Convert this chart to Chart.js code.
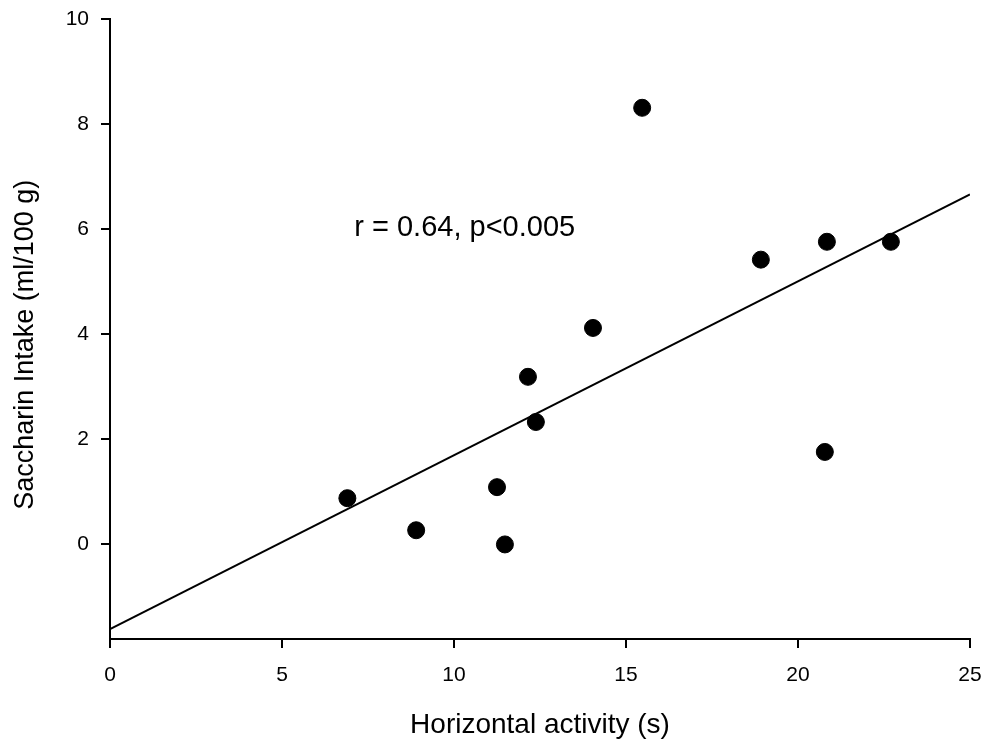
<!DOCTYPE html>
<html>
<head>
<meta charset="utf-8">
<script src="https://cdn.jsdelivr.net/npm/chart.js@4.4.0/dist/chart.umd.min.js"></script>
<style>
  html, body { margin: 0; padding: 0; background: #fff; }
  #wrap { width: 990px; height: 743px; }
</style>
</head>
<body>
<div id="wrap"><canvas id="scatterChart"></canvas></div>
<script>
// measured points (horizontal activity in s, saccharin intake in ml/100 g)
const activity = [6.9, 8.9, 11.25, 11.48, 12.15, 12.38, 14.04, 15.47, 18.92, 20.84, 20.78, 22.7];
const intake   = [0.88, 0.27, 1.09, 0.0, 3.19, 2.33, 4.12, 8.31, 5.42, 5.76, 1.76, 5.76];

// regression line end points
const fitX = [0, 25];
const fitY = [-1.61, 6.66];

const xTicks = [0, 5, 10, 15, 20, 25];
const yTicks = [0, 2, 4, 6, 8, 10];

const xTitle = "Horizontal activity (s)";
const yTitle = "Saccharin Intake (ml/100 g)";
const statsLabel = "r = 0.64, p<0.005";
const statsPos = [7.1, 6.03];

const FONT = "'Liberation Sans', Arial, sans-serif";

// r / p text inside the plot, and the y title (sits a bit below the axis centre in the original)
const extraText = {
  id: "extraText",
  afterDatasetsDraw(chart) {
    const { ctx, scales } = chart;
    ctx.save();
    ctx.fillStyle = "#000";
    ctx.font = "29px " + FONT;
    ctx.textAlign = "left";
    ctx.textBaseline = "middle";
    ctx.fillText(statsLabel, scales.x.getPixelForValue(statsPos[0]), scales.y.getPixelForValue(statsPos[1]));

    ctx.font = "27px " + FONT;
    ctx.translate(26, scales.y.getPixelForValue(3.8));
    ctx.rotate(-Math.PI / 2);
    ctx.textAlign = "center";
    ctx.fillText(yTitle, 0, 0);
    ctx.restore();
  }
};

const ctx = document.getElementById("scatterChart").getContext("2d");
new Chart(ctx, {
  type: "scatter",
  data: {
    datasets: [
      {
        label: "data",
        data: activity.map((v, i) => ({ x: v, y: intake[i] })),
        backgroundColor: "#000",
        borderColor: "#000",
        pointRadius: 8.5,
        pointHoverRadius: 8.5,
        order: 1
      },
      {
        type: "line",
        label: "fit",
        data: fitX.map((v, i) => ({ x: v, y: fitY[i] })),
        borderColor: "#000",
        borderWidth: 2,
        pointRadius: 0,
        fill: false,
        order: 2
      }
    ]
  },
  options: {
    responsive: true,
    maintainAspectRatio: false,
    animation: false,
    layout: { padding: { left: 0, right: 20, top: 19, bottom: 0 } },
    plugins: {
      legend: { display: false },
      tooltip: { enabled: false }
    },
    scales: {
      x: {
        type: "linear",
        min: 0,
        max: 25,
        afterBuildTicks: (scale) => { scale.ticks = xTicks.map(v => ({ value: v })); },
        afterFit: (scale) => {
          scale.height = 104;
          scale.paddingLeft = 0;
          scale.paddingRight = 0;
        },
        border: { display: true, color: "#000", width: 2 },
        grid: { drawOnChartArea: false, drawTicks: true, tickLength: 9, color: "#000", lineWidth: 2 },
        ticks: { color: "#000", padding: 15, font: { family: FONT, size: 21 } },
        title: {
          display: true,
          text: xTitle,
          color: "#000",
          font: { family: FONT, size: 28 },
          padding: { top: 0, bottom: 1 }
        }
      },
      y: {
        type: "linear",
        min: -1.8,
        max: 10,
        afterBuildTicks: (scale) => { scale.ticks = yTicks.map(v => ({ value: v })); },
        afterFit: (scale) => {
          scale.width = 110;
          scale.paddingTop = 0;
          scale.paddingBottom = 0;
        },
        border: { display: true, color: "#000", width: 2 },
        grid: { drawOnChartArea: false, drawTicks: true, tickLength: 9, color: "#000", lineWidth: 2 },
        ticks: { color: "#000", padding: 12, font: { family: FONT, size: 21 } }
      }
    }
  },
  plugins: [extraText]
});
</script>
</body>
</html>
